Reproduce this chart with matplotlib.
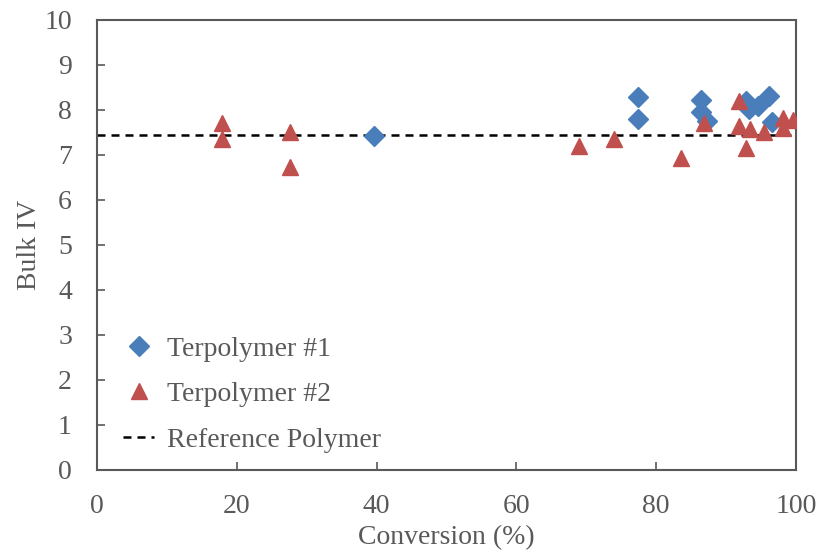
import matplotlib.pyplot as plt

# Terpolymer #1 (blue diamonds)
conv_t1 = [39.6, 77.4, 77.4, 86.4, 86.4, 87.3, 92.8, 93.3, 94.5, 96.1, 96.5]
iv_t1 = [7.43, 8.28, 7.81, 8.22, 7.95, 7.75, 8.20, 8.02, 8.08, 8.32, 7.74]

# Terpolymer #2 (red triangles)
conv_t2 = [17.9, 17.9, 27.6, 27.6, 69.0, 73.9, 83.6, 86.8, 91.9, 91.9, 92.9,
           93.4, 95.4, 98.2, 98.2, 99.6]
iv_t2 = [7.72, 7.36, 7.50, 6.73, 7.20, 7.36, 6.93, 7.72, 8.21, 7.65, 7.16,
         7.58, 7.50, 7.82, 7.60, 7.78]

# Reference polymer bulk IV
ref_iv = 7.45

plt.rcParams['font.family'] = ['Liberation Serif', 'DejaVu Serif']
gray = '#595959'

fig = plt.figure(figsize=(8.17, 5.52), dpi=100)
ax = fig.add_axes([0.1187, 0.1486, 0.8556, 0.8152])

ax.plot(conv_t1, iv_t1, linestyle='none', marker='D', ms=10.5,
        color='#4A7EBB', label='Terpolymer #1', zorder=3)
ax.plot(conv_t2, iv_t2, linestyle='none', marker='^', ms=11.5,
        color='#C0504D', label='Terpolymer #2', zorder=4)
ax.axhline(ref_iv, color='black', linestyle=(0, (3.2, 2.4)), lw=1.8,
           label='Reference Polymer', zorder=2)

ax.set_xlim(0, 100)
ax.set_ylim(0, 10)
ax.set_xticks(range(0, 101, 20))
ax.set_yticks(range(0, 11))
ax.tick_params(direction='in', length=6, width=1.2, colors=gray,
               labelsize=20)
ax.tick_params(axis='x', pad=17)
ax.tick_params(axis='y', pad=18)
for sp in ax.spines.values():
    sp.set_color(gray)
    sp.set_linewidth(1.5)

ax.set_xlabel('Conversion (%)', fontsize=20, color=gray, labelpad=5)
ax.set_ylabel('Bulk IV', fontsize=20, color=gray, labelpad=2)

ax.legend(loc='lower left', bbox_to_anchor=(0.022, 0.014), frameon=False,
          fontsize=20, labelcolor=gray, handlelength=1.1, handletextpad=0.45,
          labelspacing=0.72, borderaxespad=0)

fig.savefig('out.png', dpi=100)
